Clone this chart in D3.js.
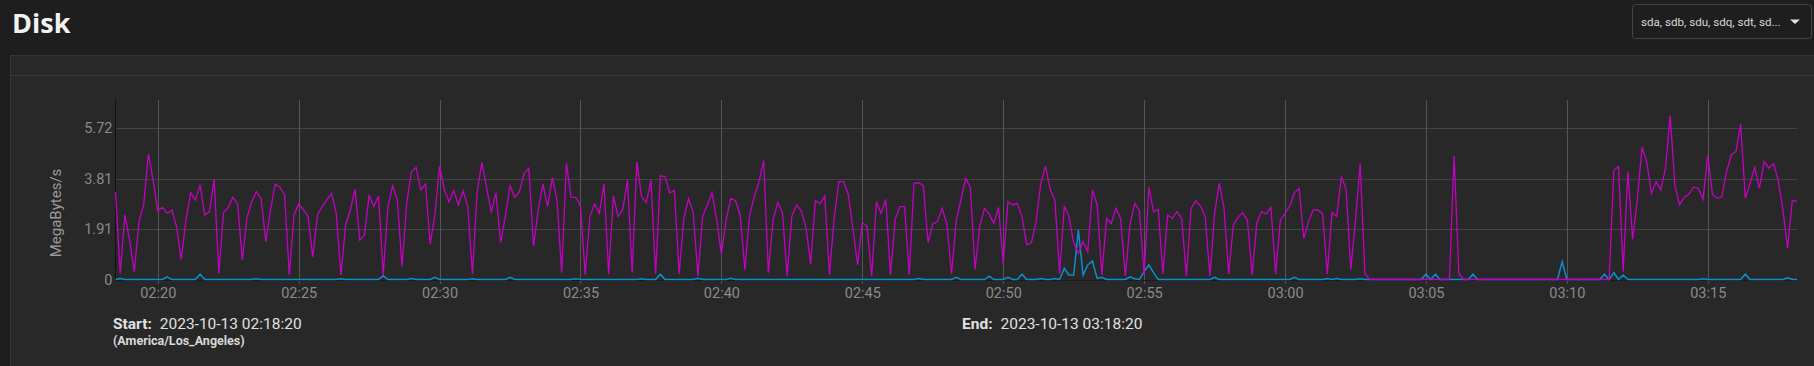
<!DOCTYPE html>
<html><head><meta charset="utf-8">
<script src="https://cdn.jsdelivr.net/npm/d3@7"></script>
<style>
html,body{margin:0;padding:0;background:#1e1e1e;overflow:hidden;}
svg{display:block;}
</style></head>
<body>
<svg id="c" width="1814" height="366"></svg>
<script>
// ---- data ----
const startTime = "2023-10-13T02:18:30";   // first sample
const sampleSeconds = 10;
const yTickValues = [0, 1.91, 3.81, 5.72];
const yMax = 6.79;
const xTickLabels = ["02:20","02:25","02:30","02:35","02:40","02:45","02:50","02:55","03:00","03:05","03:10","03:15"];
const seriesNames = ["sda","sdb","sdu","sdq","sdt","sd..."];
const startLabel = "2023-10-13 02:18:20";
const endLabel = "2023-10-13 03:18:20";
const tzLabel = "(America/Los_Angeles)";

const magentaValues = [
3.32,0.23,2.44,1.49,0.30,2.19,2.82,4.75,3.76,2.60,
2.73,2.50,2.63,2.00,0.76,2.25,3.28,3.01,3.58,2.44,
2.57,3.79,0.23,2.53,2.73,3.11,2.86,0.74,2.35,2.94,
3.32,3.07,1.43,2.63,3.61,3.49,3.20,0.17,2.44,2.86,
2.63,2.38,0.84,2.44,2.76,3.01,3.26,2.50,0.17,2.06,
2.63,3.41,1.49,1.68,3.20,2.76,3.16,0.17,2.76,3.54,
3.03,
0.49,2.88,4.08,4.24,3.39,3.61,1.34,2.44,4.29,3.41,
2.94,3.36,2.82,3.35,2.76,0.21,3.32,4.43,3.49,2.53,
3.28,1.39,2.38,3.54,3.11,3.32,4.02,4.21,1.27,2.63,
3.61,2.76,3.85,3.01,0.26,4.39,3.11,3.11,2.78,0.17,
2.38,2.86,2.50,3.61,0.21,3.16,2.38,2.65,3.76,0.26,
4.46,3.13,2.91,3.76,0.21,3.92,3.89,3.28,3.36,0.21,
2.31,3.06,2.53,0.13,2.38,2.82,3.28,2.25,0.96,2.25,
3.07,2.98,2.44,0.36,2.44,3.13,3.70,4.50,0.26,2.25,
2.91,2.53,0.13,2.40,2.82,2.60,1.97,0.59,2.98,2.86,
3.16,0.17,2.31,3.70,3.70,3.23,1.94,0.55,2.15,2.02,
0.13,2.94,2.50,3.03,0.17,2.28,2.76,2.76,0.17,3.64,
3.66,3.54,1.39,2.10,2.19,2.69,2.10,0.21,2.23,
3.01,3.83,3.49,0.38,2.00,2.69,2.48,2.12,2.73,0.61,
2.94,2.82,2.88,2.38,1.31,1.39,2.19,3.64,4.29,3.41,
3.01,0.23,2.78,2.38,1.39,0.99,1.43,1.05,3.39,2.82,
0.17,2.31,2.12,2.69,2.31,0.13,2.10,2.88,2.60,0.17,
3.49,2.57,2.65,0.21,2.44,2.31,2.57,2.31,0.13,2.69,
2.98,2.78,2.38,0.13,2.50,3.64,2.73,0.21,2.06,2.35,
2.53,2.23,0.17,2.15,2.57,2.48,2.73,0.21,2.23,2.50,
2.78,3.28,3.45,1.56,2.19,2.63,2.63,2.48,0.21,2.53,
2.38,3.89,3.41,0.38,2.23,4.37,0.23,0,
0,0,0,0,0,0,0,0,0,0,0,0,0,0,0,0,0,
4.67,0.23,
0,0,0,0,0,0,0,0,0,0,0,0,0,0,0,0,
0,0,0,0,0,0,0,0,0,0,0,0,0,0,0,0,
4.12,4.27,0.30,4.08,1.52,3.01,5.00,4.46,3.26,3.70,
3.39,4.21,6.19,3.58,2.82,3.11,3.23,3.49,3.45,3.03,
4.71,3.22,3.07,3.13,4.08,4.71,4.84,5.88,3.07,3.64,
4.24,3.45,4.46,4.21,4.39,3.76,2.63,1.18,3.00,2.94
];

const blueValues = [
0,0.04,0,0,0,0,0,0,0,0, 0,0.10,0,0,0,0,0,0,0.20,0,
0,0,0,0,0,0,0,0,0,0, 0.03,0,0,0,0,0,0,0,0,0,
0,0,0,0,0,0,0,0,0.03,0, 0,0,0,0,0,0,0,0.14,0,0,
0,0,0,0.04,0,0,0,0,0.08,0, 0,0,0,0,0,0,0.03,0,0,0,
0,0,0,0,0.08,0,0,0,0,0, 0,0,0,0,0,0,0,0,0.03,0,
0,0,0,0,0,0,0,0,0,0, 0,0,0.03,0,0,0,0.20,0,0,0,
0,0,0,0,0.05,0,0,0,0,0, 0,0.05,0,0,0,0,0,0,0,0,
0,0,0,0,0,0,0,0,0,0, 0,0,0,0,0,0,0,0,0,0,
0,0,0,0,0,0,0,0,0,0, 0,0.04,0,0,0,0,0,0,0,0.08,
0,0,0,0,0,0,0.13,0,0,0, 0.08,0,0,0.20,0,0,0,0.04,0,0,
0.04,0,0.42,0.17,0.17,1.87,0.17,0.55,0.70,0.04, 0.08,0,0,0,0,0,0.10,0.03,0,0.30,
0.55,0.26,0,0,0,0,0,0,0,0, 0,0,0,0,0.08,0,0,0,0,0,
0,0,0,0,0,0,0,0,0,0, 0,0.08,0,0,0,0,0,0,0.04,0,
0.04,0,0,0,0,0.03,0,0,0,0, 0,0,0,0,0,0,0,0,0,0.20,
0,0.20,0,0,0,0,0,0,0,0.20, 0,0,0,0,0,0,0,0,0,0,
0,0,0,0,0,0,0,0,0.67,0, 0,0,0,0,0,0,0,0.20,0,0.26,
0,0.17,0,0,0,0,0,0,0,0, 0,0,0,0,0,0,0,0,0.03,0,
0,0,0,0,0,0,0,0.20,0,0, 0,0,0,0,0,0,0.06,0,0
];

// ---- drawing ----
const svg = d3.select("#c");
const W = 1814, H = 366;
const plotLeft = 115.5, plotRight = 1797;

// page & panel
svg.append("rect").attr("x",0).attr("y",0).attr("width",W).attr("height",H).attr("fill","#1e1e1e");
svg.append("rect").attr("x",10.5).attr("y",55.5).attr("width",W+20).attr("height",H).attr("fill","#282828").attr("stroke","#353535");
svg.append("line").attr("x1",11).attr("x2",W).attr("y1",75.5).attr("y2",75.5).attr("stroke","#3a3a3a");

// title
svg.append("text").attr("x",12).attr("y",33).text("Disk")
  .attr("fill","#f2f2f2").attr("font-family","'Open Sans', sans-serif").attr("font-weight",700).attr("font-size",27);

// dropdown
svg.append("rect").attr("x",1632.5).attr("y",4.5).attr("width",179).attr("height",34).attr("rx",3)
  .attr("fill","#1e1e1e").attr("stroke","#444");
svg.append("text").attr("x",1641).attr("y",26).text(seriesNames.join(", "))
  .attr("fill","#d8d8d8").attr("font-family","Roboto, sans-serif").attr("font-size",11.6);
svg.append("path").attr("d","M1790,19.5 L1800,19.5 L1795,24 Z").attr("fill","#e0e0e0");

const t0 = d3.isoParse(startTime);
const n = magentaValues.length;
const t1 = new Date(t0.getTime() + (n-1)*sampleSeconds*1000);
const x = d3.scaleTime().domain([t0,t1]).range([plotLeft,plotRight]);
const y = d3.scaleLinear().domain([0,yMax]).range([279.5,100]);
const tAt = i => new Date(t0.getTime() + i*sampleSeconds*1000);
const parseHM = d3.timeParse("%Y-%m-%d %H:%M");
const xTicks = xTickLabels.map(s => parseHM("2023-10-13 " + s));

const plot = svg.append("g");
// horizontal grid
plot.selectAll("line.hg").data(yTickValues.filter(v=>v>0)).join("line")
  .attr("x1",plotLeft).attr("x2",plotRight).attr("y1",d=>Math.round(y(d))+0.5).attr("y2",d=>Math.round(y(d))+0.5)
  .attr("stroke","#444").attr("stroke-width",1);
// vertical grid
plot.selectAll("line.vg").data(xTicks).join("line")
  .attr("x1",d=>Math.round(x(d))+0.5).attr("x2",d=>Math.round(x(d))+0.5).attr("y1",100).attr("y2",284)
  .attr("stroke","#555").attr("stroke-width",1);

// y axis
const yAxis = d3.axisLeft(y).tickValues(yTickValues).tickSize(0).tickPadding(4).tickFormat(d=>d===0?"0":d3.format(".2f")(d));
const ya = svg.append("g").attr("transform","translate(115.5,0)").call(yAxis);
ya.select(".domain").attr("stroke","#111").attr("d","M0,100V280");
ya.selectAll("text").attr("fill","#8a8a8a").attr("font-family","Roboto, sans-serif").attr("font-size",14.5).attr("x",-3);

// x axis
const xAxis = d3.axisBottom(x).tickValues(xTicks).tickSize(0).tickPadding(8).tickFormat(d3.timeFormat("%H:%M"));
const xa = svg.append("g").attr("transform","translate(0,280)").call(xAxis);
xa.select(".domain").attr("stroke","#1a1a1a").attr("stroke-width",1);
xa.selectAll("text").attr("fill","#8a8a8a").attr("font-family","Roboto, sans-serif").attr("font-size",14.5);

// y label
svg.append("text").attr("transform","translate(61,213) rotate(-90)").attr("text-anchor","middle")
  .text("MegaBytes/s").attr("fill","#9a9a9a").attr("font-family","Roboto, sans-serif").attr("font-size",15);

// lines
const line = d3.line().x((d,i)=>x(tAt(i))).y(d=>y(d));
svg.append("path").datum(blueValues).attr("d",line).attr("fill","none").attr("stroke","#0a8fd0").attr("stroke-width",1.5);
svg.append("path").datum(magentaValues).attr("d",line).attr("fill","none").attr("stroke","#c400c4").attr("stroke-width",1.3);

// bottom info
function info(xp, label, val){
  const t = svg.append("text").attr("x",xp).attr("y",329).attr("font-family","Roboto, sans-serif").attr("font-size",15.5).attr("fill","#e0e0e0");
  t.append("tspan").attr("font-weight",700).text(label);
  t.append("tspan").attr("dx",8).text(val);
}
info(113,"Start:",startLabel);
info(962,"End:",endLabel);
svg.append("text").attr("x",113).attr("y",345).text(tzLabel).attr("font-family","Roboto, sans-serif")
  .attr("font-size",12.5).attr("font-weight",700).attr("fill","#d8d8d8");
</script>
</body></html>
